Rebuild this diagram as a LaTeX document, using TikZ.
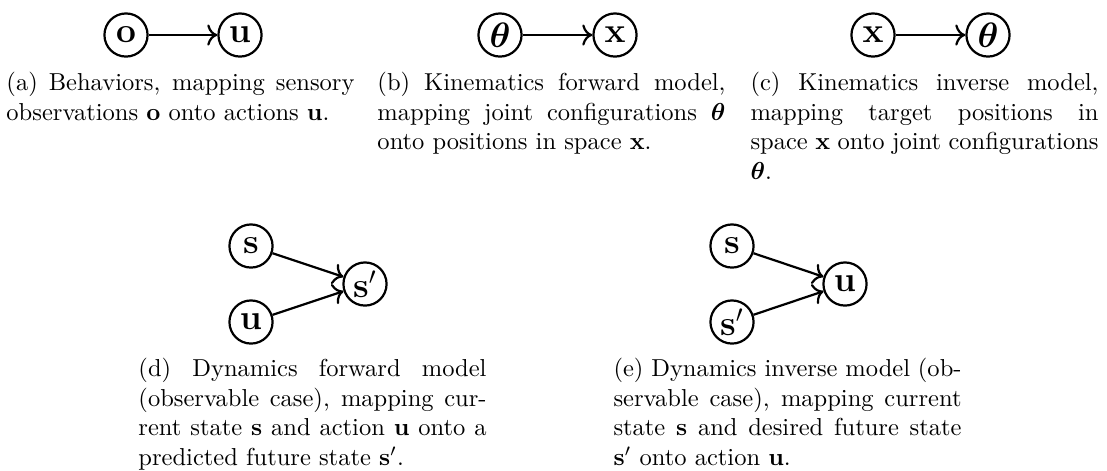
\documentclass[tikz,border=0pt]{standalone}
\usepackage{amsmath,bm}
\usetikzlibrary{arrows.meta}
\begin{document}
\begin{tikzpicture}[x=0.408pt,y=-0.408pt,
  var/.style={circle,draw,line width=0.9pt,minimum size=17.6pt,inner sep=0pt,font=\Large},
  arr/.style={-{To[scale=1.15]},line width=0.9pt},
  captext/.style={anchor=north west,text width=142pt,align=justify,inner sep=0pt}]
\useasboundingbox (0,0) rectangle (1107,470);
% (a)
\node[var] (ao) at (126,35) {$\mathbf{o}$};
\node[var] (au) at (240,35) {$\mathbf{u}$};
\draw[arr] (ao) -- (au);
\node[captext] (capa) at (6,72) {(a) Behaviors, mapping sensory observations $\mathbf{o}$ onto actions $\mathbf{u}$.};
% (b)
\node[var] (bt) at (500,35) {$\bm{\theta}$};
\node[var] (bx) at (615,35) {$\mathbf{x}$};
\draw[arr] (bt) -- (bx);
\node[captext] (capb) at (377,72) {(b) Kinematics forward model, mapping joint configurations $\bm{\theta}$ onto positions in space $\mathbf{x}$.};
% (c)
\node[var] (cx) at (873,35) {$\mathbf{x}$};
\node[var] (ct) at (988,35) {$\bm{\theta}$};
\draw[arr] (cx) -- (ct);
\node[captext] (capc) at (750,72) {(c) Kinematics inverse model, mapping target positions in space $\mathbf{x}$ onto joint configurations $\bm{\theta}$.};
% (d)
\node[var] (ds) at (251,246) {$\mathbf{s}$};
\node[var] (du) at (251,322) {$\mathbf{u}$};
\node[var] (dsp) at (365,284) {$\mathbf{s}'$};
\draw[arr] (ds) -- (dsp);
\draw[arr] (du) -- (dsp);
\node[captext] (capd) at (138,358) {(d) Dynamics forward model (observable case), mapping current state $\mathbf{s}$ and action $\mathbf{u}$ onto a predicted future state $\mathbf{s}'$.};
% (e)
\node[var] (es) at (732,246) {$\mathbf{s}$};
\node[var] (esp) at (732,322) {$\mathbf{s}'$};
\node[var] (eu) at (845,284) {$\mathbf{u}$};
\draw[arr] (es) -- (eu);
\draw[arr] (esp) -- (eu);
\node[captext] (cape) at (613,358) {(e) Dynamics inverse model (observable case), mapping current state $\mathbf{s}$ and desired future state $\mathbf{s}'$ onto action $\mathbf{u}$.};
\end{tikzpicture}
\end{document}
